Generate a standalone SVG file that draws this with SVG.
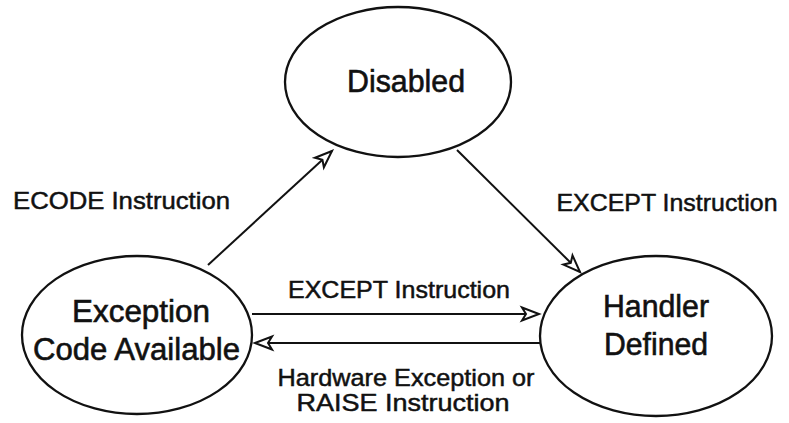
<svg xmlns="http://www.w3.org/2000/svg" width="789" height="423" viewBox="0 0 789 423">
  <style>
    .state { fill: #ffffff; stroke: #111111; stroke-width: 2.3; }
    .edge { fill: none; stroke: #111111; stroke-width: 2; }
    .big { font-family: "Liberation Sans", Arial, sans-serif; font-size: 31px; fill: #111111; stroke: #111111; stroke-width: 0.6; text-anchor: middle; }
    .lbl { font-family: "Liberation Sans", Arial, sans-serif; font-size: 24.5px; fill: #111111; stroke: #111111; stroke-width: 0.5; text-anchor: middle; }
  </style>
  <defs>
    <marker id="open-arrow" markerUnits="userSpaceOnUse" markerWidth="24" markerHeight="18" viewBox="-20 -9 24 18" refX="0" refY="0" orient="auto">
      <path d="M-17,-6.5 L0,0 L-17,6.5 L-13,0 Z" fill="#ffffff" stroke="#111111" stroke-width="2" stroke-linejoin="miter"/>
    </marker>
  </defs>
  <rect width="789" height="423" fill="#ffffff"/>

  <!-- transitions -->
  <g id="connectors">
    <line class="edge" x1="208" y1="265" x2="332" y2="151" marker-end="url(#open-arrow)"/>
    <line class="edge" x1="457" y1="150" x2="580" y2="272" marker-end="url(#open-arrow)"/>
    <line class="edge" x1="252" y1="314" x2="539" y2="314" marker-end="url(#open-arrow)"/>
    <line class="edge" x1="542" y1="343" x2="255" y2="343" marker-end="url(#open-arrow)"/>
    <text class="lbl" x="121.5" y="209" textLength="217" lengthAdjust="spacingAndGlyphs">ECODE Instruction</text>
    <text class="lbl" x="667" y="211" textLength="221" lengthAdjust="spacingAndGlyphs">EXCEPT Instruction</text>
    <text class="lbl" x="399" y="298" textLength="222" lengthAdjust="spacingAndGlyphs">EXCEPT Instruction</text>
    <text class="lbl" x="406" y="386" textLength="257" lengthAdjust="spacingAndGlyphs">Hardware Exception or</text>
    <text class="lbl" x="403" y="411" textLength="213" lengthAdjust="spacingAndGlyphs">RAISE Instruction</text>
  </g>

  <!-- states -->
  <g id="disabled">
    <ellipse class="state" cx="398" cy="82" rx="113" ry="75"/>
    <text class="big" x="406" y="92" textLength="118" lengthAdjust="spacingAndGlyphs">Disabled</text>
  </g>
  <g id="exception-code-available">
    <ellipse class="state" cx="137" cy="335" rx="115" ry="79"/>
    <text class="big" x="141" y="322" textLength="138" lengthAdjust="spacingAndGlyphs">Exception</text>
    <text class="big" x="136.5" y="360" textLength="207" lengthAdjust="spacingAndGlyphs">Code Available</text>
  </g>
  <g id="handler-defined">
    <ellipse class="state" cx="656" cy="336" rx="116" ry="80"/>
    <text class="big" x="656" y="317" textLength="106" lengthAdjust="spacingAndGlyphs">Handler</text>
    <text class="big" x="656" y="355" textLength="104" lengthAdjust="spacingAndGlyphs">Defined</text>
  </g>
</svg>
